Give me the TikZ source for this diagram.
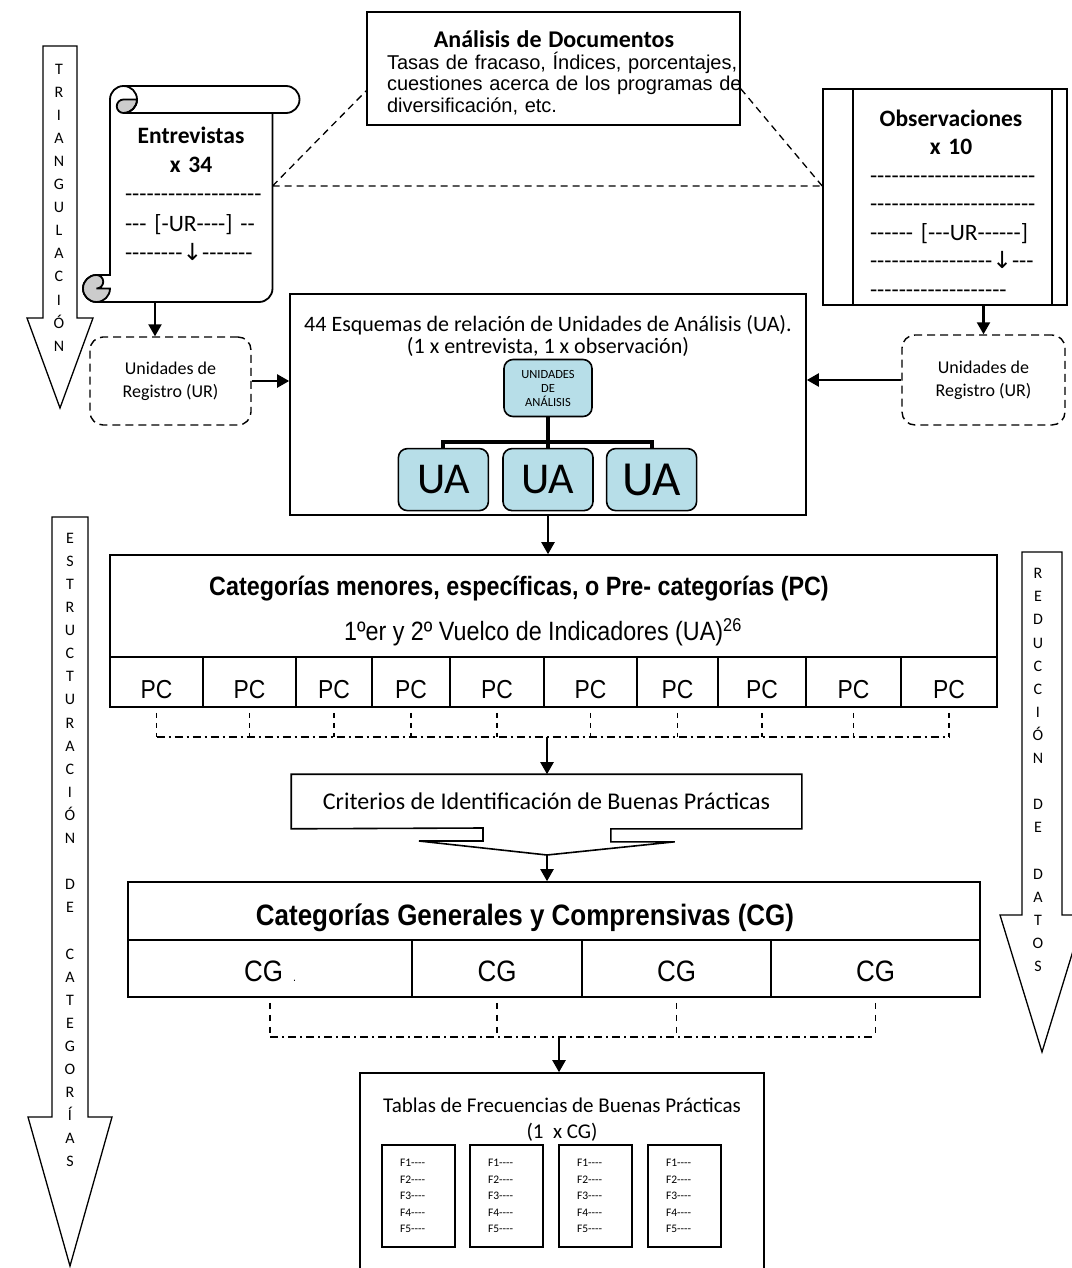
\documentclass[tikz,border=0pt]{standalone}
\usepackage{fontspec}
\setmainfont{Carlito}
\newfontfamily\arialfont{Liberation Sans}
\newfontfamily\narrowfont{Liberation Sans}[FakeStretch=0.88]
\newfontfamily\flechafont{DejaVu Sans}
\usetikzlibrary{positioning,arrows.meta}
\definecolor{celeste}{RGB}{183,222,232}
\definecolor{gris}{RGB}{204,204,204}
\newcommand{\tam}[2]{\fontsize{#1}{#2}\selectfont}
\newcommand{\guiones}[1]{\foreach \g in {1,...,#1}{\mbox{-}}}
\newcommand{\abajo}{{\flechafont ↓}}

\begin{document}
\begin{tikzpicture}[%
    x=1pt,
    y=-1pt,
    >={Triangle[length=12pt,width=13pt]},
    line width=1.6pt,
    caja/.style={%
      draw,
      rectangle,
      inner sep=0pt
    },
    registro/.style={%
      draw,
      dash pattern=on 8pt off 5pt,
      line width=1.4pt,
      rounded corners=13pt,
      align=center,
      inner sep=0pt,
      font=\tam{18}{23}
    },
    ua/.style={%
      draw,
      fill=celeste,
      rounded corners=9pt,
      inner sep=0pt,
      minimum width=90pt,
      minimum height=62pt,
      font=\tam{44}{44}
    },
    celdapc/.style={%
      draw,
      inner sep=0pt,
      anchor=base,
      text height=41pt,
      text depth=9pt,
      font=\narrowfont\tam{26}{30}
    },
    celdacg/.style={%
      draw,
      inner sep=0pt,
      anchor=base,
      text height=41.5pt,
      text depth=15.5pt,
      font=\narrowfont\tam{29.5}{32}
    },
    ficha/.style={%
      caja,
      minimum width=73pt,
      minimum height=102pt,
      text width=37pt,
      inner xsep=18pt,
      align=left,
      font=\tam{11.5}{16.4}
    },
    letras/.style={%
      align=center,
      inner sep=0pt,
      font=\tam{16}{23.1}
    },
    flechagrande/.style={%
      fill=white,
      line width=1.3pt
    },
    flecha/.style={%
      ->,
      line width=2.2pt
    },
    punteada/.style={%
      line width=1.3pt,
      dash pattern=on 7pt off 5pt
    },
    guionv/.style={%
      line width=1.2pt,
      dash pattern=on 5pt off 5pt
    },
    rayapunto/.style={%
      line width=1.2pt,
      dash pattern=on 8pt off 4pt on 2pt off 4pt
    }
  ]
    \useasboundingbox (0,0) rectangle (1071,1268);

    \draw[flechagrande] (43,46) -- (77,46) -- (77,318) -- (93,318) -- (60,408) -- (27,318) -- (43,318) -- cycle;
    \draw[flechagrande] (52,517) -- (88,517) -- (88,1117) -- (112,1117) -- (70,1266) -- (28,1117) -- (52,1117) -- cycle;
    \draw[flechagrande] (1022,552) -- (1062,552) -- (1062,915) -- (1084,915) -- (1042,1052) -- (1000,915) -- (1022,915) -- cycle;
    \node[letras] (triang) at (59,207.5) {T\\R\\I\\A\\N\\G\\U\\L\\A\\C\\I\\Ó\\N};
    \node[letras] (estruc) at (70,850)   {E\\S\\T\\R\\U\\C\\T\\U\\R\\A\\C\\I\\Ó\\N\\[23.1pt]D\\E\\[23.1pt]C\\A\\T\\E\\G\\O\\R\\Í\\A\\S};
    \node[letras] (reduc)  at (1038,770) {R\\E\\D\\U\\C\\C\\I\\Ó\\N\\[23.1pt]D\\E\\[23.1pt]D\\A\\T\\O\\S};

    \draw[fill=white, line width=1.8pt] (110,275) -- (110,99.5) arc[start angle=180, end angle=90, radius=13.5pt] -- (286,86) arc[start angle=90, end angle=-90, radius=13.5pt] -- (272.5,113) -- (272.5,288.5) arc[start angle=0, end angle=-90, radius=13.5pt] -- (96.5,302) arc[start angle=270, end angle=90, radius=13.5pt] -- cycle;
    \draw[fill=gris, line width=1.8pt] (137,99.5) arc[start angle=0, end angle=-90, radius=13.5pt] arc[start angle=270, end angle=90, radius=6.75pt] -- cycle;
    \draw[fill=gris, line width=1.8pt] (110,288.5) arc[start angle=0, end angle=-270, radius=13.5pt] arc[start angle=90, end angle=-90, radius=6.75pt] -- cycle;
    \draw[line width=1.8pt] (123.5,86) arc[start angle=90, end angle=-90, radius=13.5pt] -- (272.5,113);
    \coordinate (rollobase) at (155,302);
    \coordinate (rolloder)  at (272.5,186);
    \node[font=\tam{23.5}{29.3}, text width=132pt, align=left, inner sep=0pt] (entrev) at (191,193.5) {\makebox[132pt]{\bfseries Entrevistas}\\\makebox[132pt]{\bfseries x 34}\\\guiones{19}\\\guiones{3} [\guiones{1}UR\guiones{4}] \guiones{2}\\\guiones{8}\abajo\guiones{7}};

    \node[caja, minimum width=373pt, minimum height=113pt] (doc) at (553.5,68.5) {};
    \node[font=\arialfont\tam{20}{21.7}, text width=360pt, align=left, inner sep=0pt] (doctexto) at (567,73) {\makebox[334pt]{\rmfamily\tam{24}{21.7}\bfseries Análisis de Documentos}\\Tasas de fracaso, Índices, porcentajes,\\cuestiones acerca de los programas de\\diversificación, etc.};

    \node[caja, minimum width=244pt, minimum height=216pt] (obs) at (945,197) {};
    \draw ([xshift=31pt]obs.north west) -- ([xshift=31pt]obs.south west);
    \draw ([xshift=-16pt]obs.north east) -- ([xshift=-16pt]obs.south east);
    \node[font=\tam{23.5}{28.5}, text width=162pt, align=left, inner sep=0pt] (obstexto) at (951,203.5) {\makebox[162pt]{\bfseries Observaciones}\\\makebox[162pt]{\bfseries x 10}\\\guiones{23}\\\guiones{23}\\\guiones{6} [\guiones{3}UR\guiones{6}]\\\guiones{17}\abajo\guiones{3}\\\guiones{19}};

    \draw[punteada] (rolloder) -- ([yshift=35pt]doc.south west)
                    ([yshift=37pt]doc.south east) -- (obs.west |- rolloder)
                    (rolloder) -- (obs.west |- rolloder);

    \node[registro, minimum width=161pt, minimum height=88pt] (urizq) at (170.5,381) {Unidades de\\Registro (UR)};
    \node[registro, minimum width=163pt, minimum height=90pt] (urder) at (983.5,380) {Unidades de\\Registro (UR)};

    \node[caja, minimum width=516pt, minimum height=221pt] (esq) at (548,404.5) {};
    \node[align=center, font=\tam{22}{22}] (esqtexto) at (548,335.5) {44 Esquemas de relación de Unidades de Análisis (UA).\\(1 x entrevista, 1 x observación)};
    \node[ua, minimum width=88pt, minimum height=57pt, align=center, font=\tam{12.5}{14}] (unid) at (548,388) {UNIDADES\\DE\\ANÁLISIS};
    \node[ua] (ua2) [below=30.5pt of unid] {UA};
    \node[ua] (ua1) [left=13pt of ua2]     {UA};
    \node[ua, font=\tam{49}{49}] (ua3) [right=12pt of ua2] {UA};
    \draw[line width=4pt] (unid.south) -- (ua2.north);
    \draw[line width=4pt] (ua1.north) |- ([yshift=6pt]ua2.north) -| (ua3.north);

    \node[caja, minimum width=887pt, minimum height=102pt] (pchead) at (553.5,606) {};
    \node[font=\narrowfont\bfseries\tam{26.5}{30}] (pctitulo) at (519,589) {Categorías menores, específicas, o Pre- categorías (PC)};
    \node[font=\narrowfont\tam{26.5}{30}] (pcsub) at (543,632) {1ºer y 2º Vuelco de Indicadores (UA)\textsuperscript{26}};
    \foreach \a/\b [count=\i] in {110/203,203/296,296/372,372/450,450/544,544/637,637/718,718/806,806/901,901/997}
      \node[celdapc, minimum width={(\b-\a)*1pt}] (pc\i) at ({(\a+\b)/2},698) {PC};
    \coordinate (pcjunta) at (547,737);
    \foreach \i in {1,...,10}
      \draw[guionv] ([yshift=-5pt]pc\i.south) -- (pc\i.south |- pcjunta);
    \draw[rayapunto] (pc1.south |- pcjunta) -- (pc10.south |- pcjunta);

    \node[font=\tam{24}{28}, minimum width=509pt, minimum height=53pt, inner sep=0pt] (crit) at (546.5,801.5) {Criterios de Identificación de Buenas Prácticas};
    \coordinate (embudo) at (547,855);
    \draw (crit.south west) -- (crit.north west) -- (crit.north east) -- (crit.south east) -- ++(-191,0) -- ++(0,13) -- ++(64,0) -- (embudo) -- ++(-128,-14) -- ++(64,0) -- ++(0,-13) -- cycle;

    \node[caja, minimum width=852pt, minimum height=58pt] (cghead) at (554,911) {};
    \node[font=\narrowfont\bfseries\tam{29.5}{32}] (cgtitulo) at (525,918) {Categorías Generales y Comprensivas (CG)};
    \foreach \a/\b/\t [count=\i] in {128/412/{CG\hspace{10pt}{\tam{12}{12}.}},412/582/CG,582/771/CG,771/980/CG}
      \node[celdacg, minimum width={(\b-\a)*1pt}] (cg\i) at ({(\a+\b)/2},981.5) {\t};
    \coordinate (cgjunta) at (559,1037);
    \foreach \i in {1,...,4}
      \draw[guionv, dash pattern=on 6pt off 6pt] ([yshift=-5pt]cg\i.south) -- (cg\i.south |- cgjunta);
    \draw[rayapunto] (cg1.south |- cgjunta) -- (cg4.south |- cgjunta);

    \node[caja, minimum width=404pt, minimum height=222pt] (tablas) at (562,1184) {};
    \node[align=center, font=\tam{21}{26}] (tablastexto) at (562,1120) {Tablas de Frecuencias de Buenas Prácticas\\(1\ \ x CG)};
    \foreach \x [count=\i] in {418.5,506.5,595.5,684.5}
      \node[ficha] (f\i) at (\x,1196) {F1\guiones{4}\\F2\guiones{4}\\F3\guiones{4}\\F4\guiones{4}\\F5\guiones{4}};

    \path[flecha] (rollobase) edge (rollobase |- urizq.north)
                  (urizq.east) edge (urizq.east -| esq.west)
                  (urder.west) edge (urder.west -| esq.east)
                  (urder.north |- obs.south) edge (urder.north)
                  (esq.south) edge (esq.south |- pchead.north)
                  (pcjunta) edge (pcjunta |- crit.north)
                  (embudo) edge (embudo |- cghead.north)
                  (cgjunta) edge (cgjunta |- tablas.north);
\end{tikzpicture}
\end{document}
